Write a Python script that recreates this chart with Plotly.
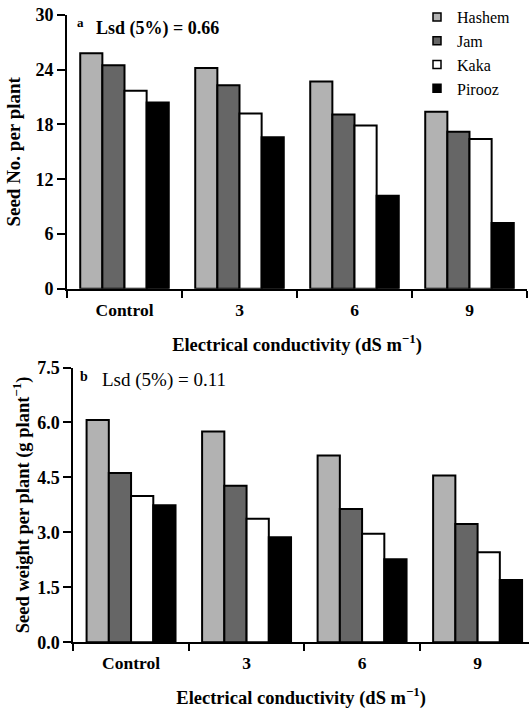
import plotly.graph_objects as go

categories = ["Control", "3", "6", "9"]
varieties = ["Hashem", "Jam", "Kaka", "Pirooz"]
colors = ["#b2b2b2", "#666666", "#ffffff", "#000000"]

seed_no = {
    "Hashem": [25.8, 24.2, 22.7, 19.4],
    "Jam":    [24.5, 22.3, 19.1, 17.2],
    "Kaka":   [21.7, 19.2, 17.9, 16.4],
    "Pirooz": [20.4, 16.6, 10.2, 7.2],
}
seed_wt = {
    "Hashem": [6.07, 5.75, 5.10, 4.55],
    "Jam":    [4.62, 4.27, 3.64, 3.23],
    "Kaka":   [3.99, 3.37, 2.96, 2.46],
    "Pirooz": [3.74, 2.87, 2.27, 1.70],
}

FONT = "Liberation Serif"
W, H = 529, 713

fig = go.Figure()
for v, c in zip(varieties, colors):
    fig.add_trace(go.Bar(x=categories, y=seed_no[v], name=v, showlegend=False,
                         marker=dict(color=c, line=dict(color="black", width=2)),
                         xaxis="x", yaxis="y"))
    fig.add_trace(go.Bar(x=categories, y=seed_wt[v], name=v, showlegend=False,
                         marker=dict(color=c, line=dict(color="black", width=2)),
                         xaxis="x2", yaxis="y2"))
    fig.add_trace(go.Scatter(x=[None], y=[None], mode="markers", name=v,
                             marker=dict(symbol="square", size=8, color=c,
                                         line=dict(color="black", width=1.5)),
                             xaxis="x", yaxis="y"))

xtickfont = dict(family=FONT, size=17.5, color="black", weight="bold")
ytickfont = dict(family=FONT, size=18, color="black", weight="bold")
titlefont = dict(family=FONT, size=18.5, color="black", weight="bold")

common_x = dict(type="category", showline=True, linewidth=2, linecolor="black",
                ticks="outside", ticklen=7, tickwidth=2, tickcolor="black",
                tickson="boundaries", showgrid=False, zeroline=False,
                tickfont=xtickfont, ticklabelstandoff=4, automargin=False)
common_y = dict(showline=True, linewidth=2, linecolor="black",
                ticks="outside", ticklen=8, tickwidth=2, tickcolor="black",
                showgrid=False, zeroline=False, tickfont=ytickfont, automargin=False)

fig.update_layout(
    width=W, height=H,
    margin=dict(l=0, r=0, t=0, b=0),
    paper_bgcolor="white", plot_bgcolor="white",
    barmode="group", bargap=0.23, bargroupgap=0,
    font=dict(family=FONT, color="black"),
    xaxis=dict(common_x, domain=[67/W, 527/W], anchor="y", range=[-0.5, 3.5],
               title=dict(text="Electrical conductivity (dS m<sup>\u22121</sup>)",
                          font=titlefont, standoff=19)),
    yaxis=dict(common_y, domain=[1-288.7/H, 1-15/H], anchor="x", range=[0, 30],
               tickvals=[0, 6, 12, 18, 24, 30],
               title=dict(text="Seed No. per plant", font=dict(titlefont, size=19), standoff=10)),
    xaxis2=dict(common_x, domain=[73.3/W, 1.0], anchor="y2", range=[-0.5, 3.445],
                title=dict(text="Electrical conductivity (dS m<sup>\u22121</sup>)",
                           font=titlefont, standoff=19)),
    yaxis2=dict(common_y, domain=[1-642.3/H, 1-367.5/H], anchor="x2", range=[0, 7.5],
                tickvals=[0, 1.5, 3, 4.5, 6, 7.5], tickformat=".1f",
                title=dict(text="Seed weight per plant (g plant<sup>\u22121</sup>)",
                           font=titlefont, standoff=3)),
    legend=dict(x=417/W, y=1.0, xanchor="left", yanchor="top",
                font=dict(family=FONT, size=16, color="black"),
                bgcolor="rgba(0,0,0,0)", borderwidth=0, itemwidth=30),
    annotations=[
        dict(text="a", x=75/W, y=1-22.5/H, xref="paper", yref="paper",
             xanchor="left", yanchor="middle", showarrow=False,
             font=dict(family=FONT, size=13, color="black", weight="bold")),
        dict(text="Lsd (5%) = 0.66", x=94/W, y=1-28/H, xref="paper", yref="paper",
             xanchor="left", yanchor="middle", showarrow=False,
             font=dict(family=FONT, size=18, color="black", weight="bold")),
        dict(text="b", x=78/W, y=1-376/H, xref="paper", yref="paper",
             xanchor="left", yanchor="middle", showarrow=False,
             font=dict(family=FONT, size=14, color="black", weight="bold")),
        dict(text="Lsd (5%) = 0.11", x=100/W, y=1-380/H, xref="paper", yref="paper",
             xanchor="left", yanchor="middle", showarrow=False,
             font=dict(family=FONT, size=19, color="black")),
    ],
)

fig.write_html("out.html")
